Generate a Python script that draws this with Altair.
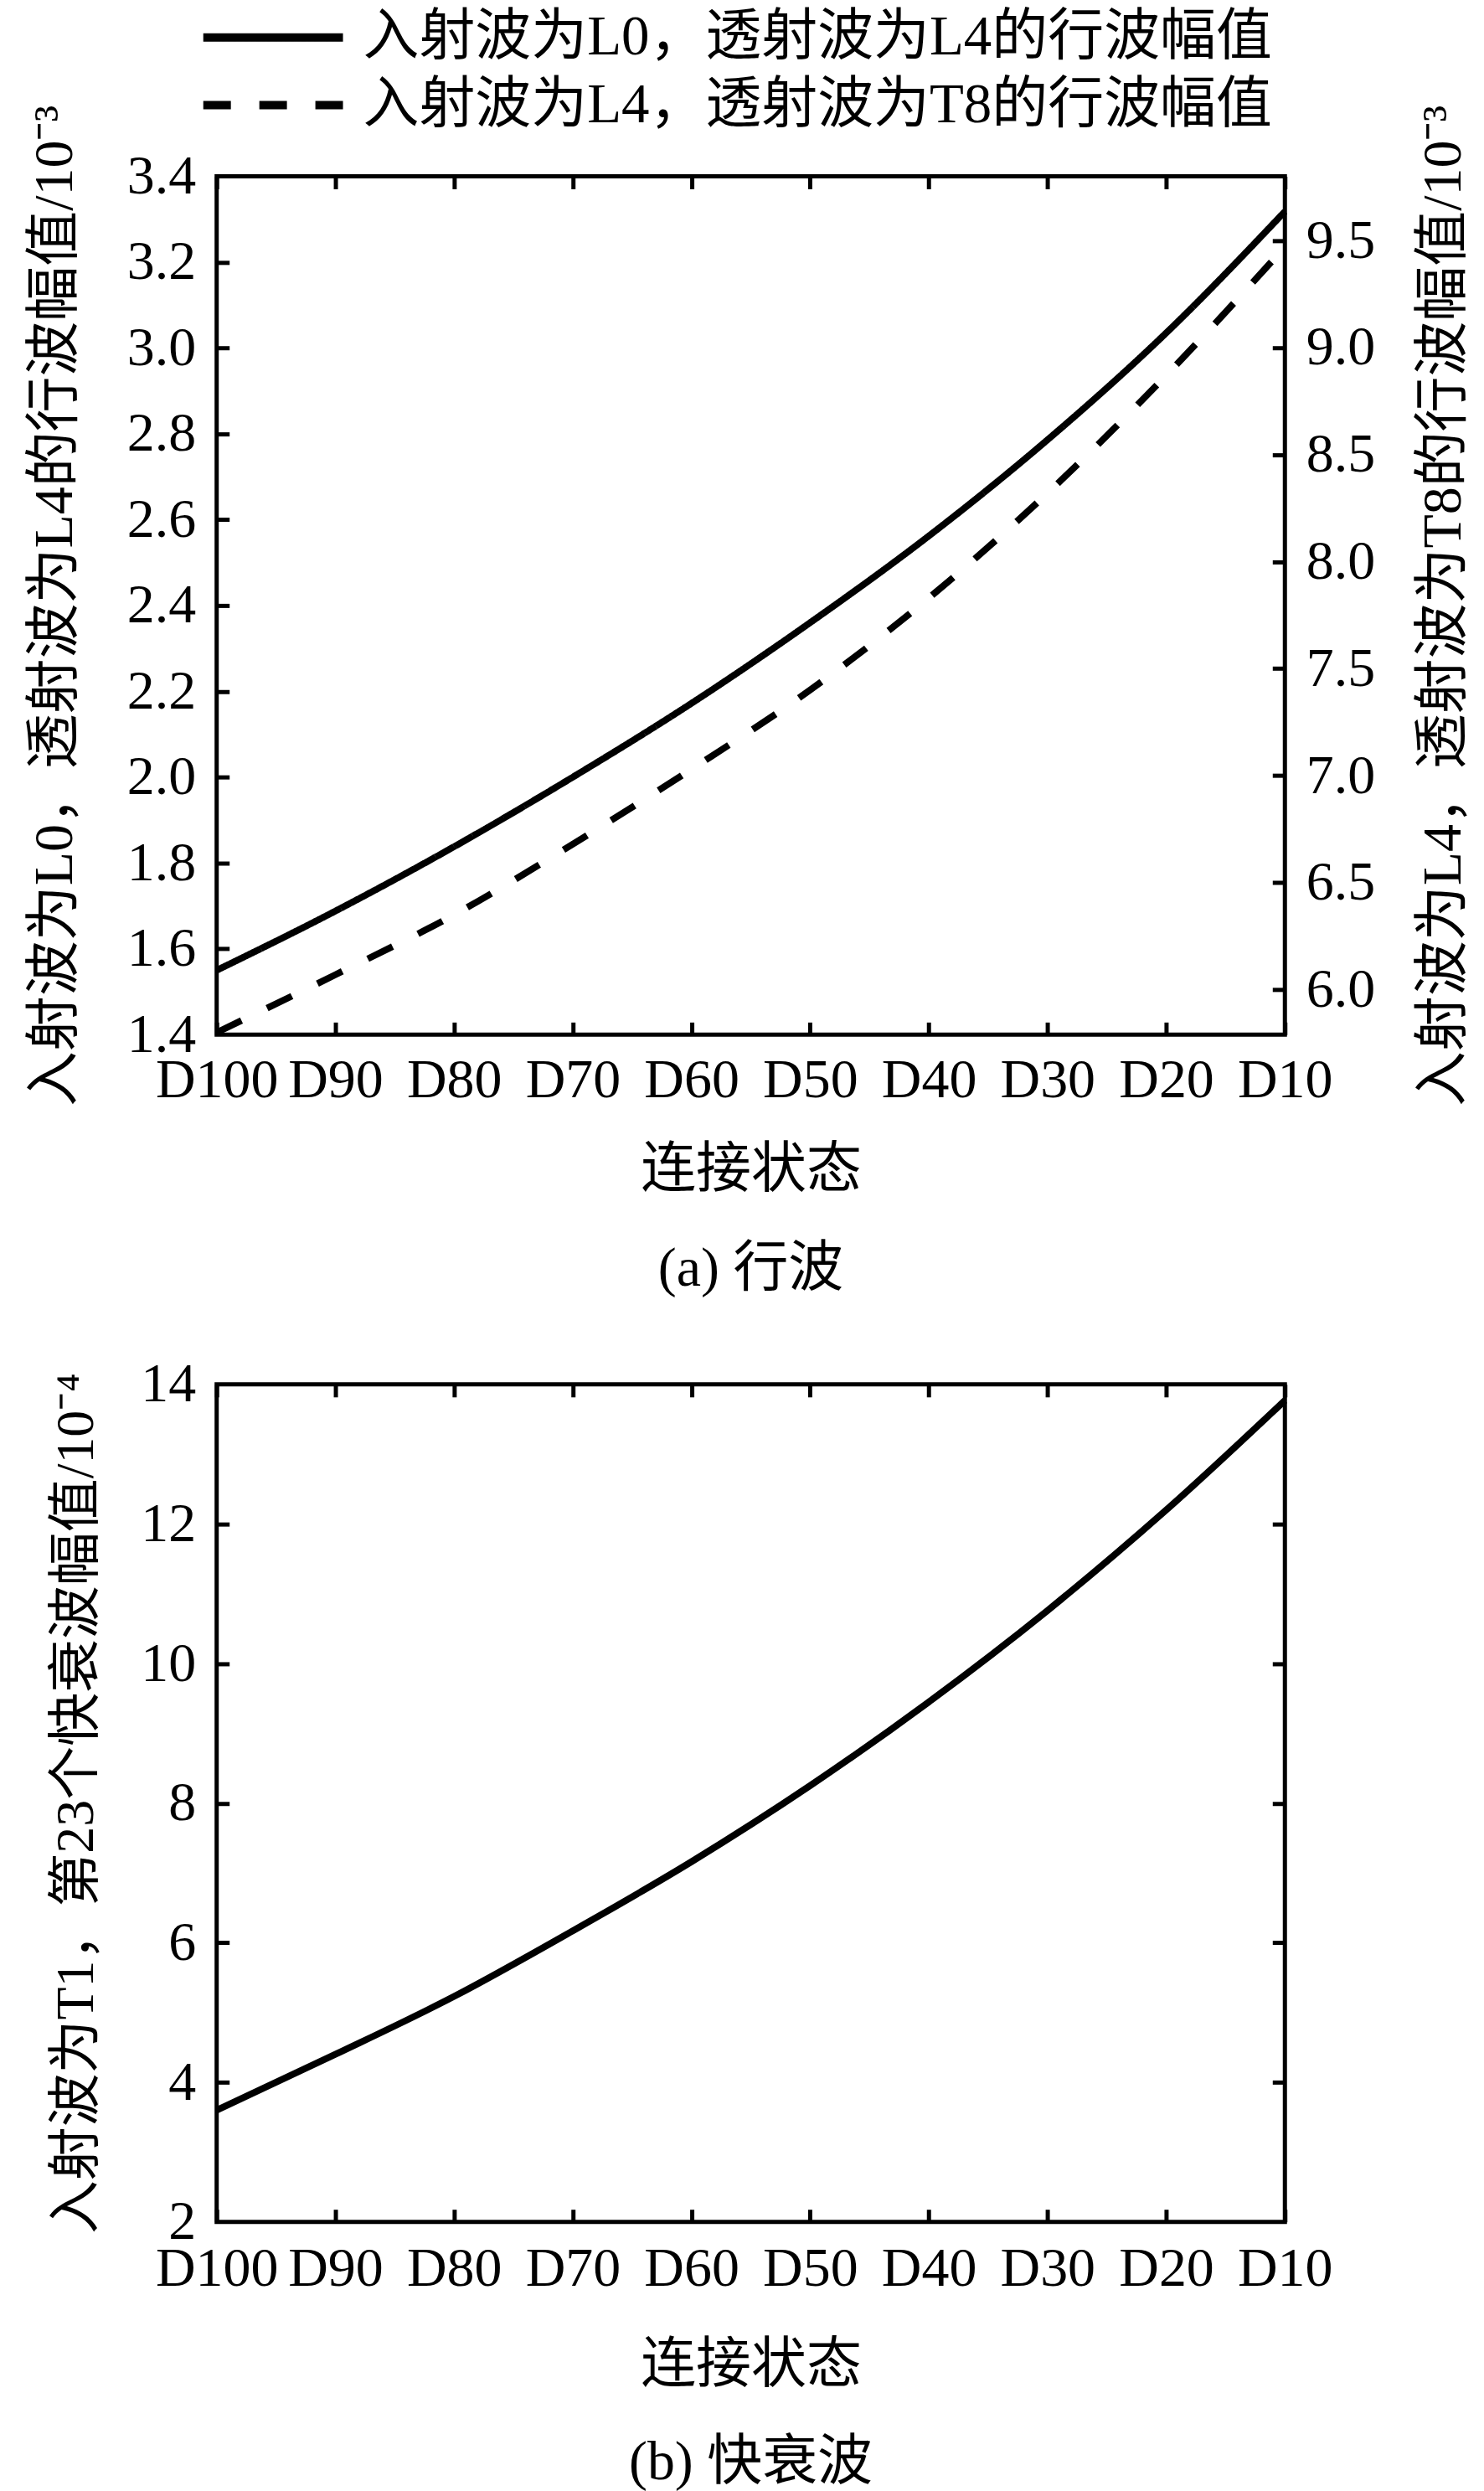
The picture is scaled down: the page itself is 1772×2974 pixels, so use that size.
import altair as alt
import pandas as pd

# ---------------- data ----------------
states = ["D100", "D90", "D80", "D70", "D60", "D50", "D40", "D30", "D20", "D10"]
l0_to_l4 = [1.550, 1.688, 1.838, 2.000, 2.172, 2.360, 2.562, 2.786, 3.035, 3.318]
l4_to_t8 = [5.80, 6.07, 6.35, 6.68, 7.03, 7.40, 7.83, 8.32, 8.87, 9.47]
t1_fast23 = [3.60, 4.40, 5.23, 6.17, 7.16, 8.25, 9.45, 10.76, 12.20, 13.77]

series_names = ["入射波为L0，透射波为L4的行波幅值", "入射波为L4，透射波为T8的行波幅值"]
left_ticks_a = [1.4, 1.6, 1.8, 2.0, 2.2, 2.4, 2.6, 2.8, 3.0, 3.2, 3.4]
right_ticks_a = [6.0, 6.5, 7.0, 7.5, 8.0, 8.5, 9.0, 9.5]
left_ticks_b = [2, 4, 6, 8, 10, 12, 14]

left_title_a = "入射波为L0，透射波为L4的行波幅值/10⁻³"
right_title_a = "入射波为L4，透射波为T8的行波幅值/10⁻³"
left_title_b = "入射波为T1，第23个快衰波幅值/10⁻⁴"
x_title = "连接状态"
caption_a = "(a) 行波"
caption_b = "(b) 快衰波"

# ---------------- style ----------------
FONT = "Liberation Serif, Noto Sans CJK SC"
W, H1, H2 = 1277, 1026, 1001
TICK = 15

df_a1 = pd.DataFrame({"state": states, "value": l0_to_l4, "series": series_names[0]})
df_a2 = pd.DataFrame({"state": states, "value": l4_to_t8, "series": series_names[1]})
df_b = pd.DataFrame({"state": states, "value": t1_fast23})

xscale = alt.Scale(type="point", padding=0)
yscale_l = alt.Scale(domain=[1.4, 3.4], nice=False, zero=False)
yscale_r = alt.Scale(domain=[5.79, 9.80], nice=False, zero=False)
yscale_b = alt.Scale(domain=[2, 14], nice=False, zero=False)


def tick_axis(orient, values=None):
    kw = dict(orient=orient, offset=-TICK, tickSize=TICK, tickWidth=5, tickColor="black",
              ticks=True, labels=False, domain=False, title=None, grid=False)
    if values is not None:
        kw["values"] = values
    return alt.Axis(**kw)


def x_enc(axis):
    return alt.X("state:N", sort=states, scale=xscale, axis=axis)


def x_main_axis(label_pad, title_pad):
    return alt.Axis(orient="bottom", title=x_title, labelAngle=0, ticks=False, domain=False,
                    labelOverlap=False, labelPadding=label_pad, titlePadding=title_pad)


dash_scale = alt.Scale(domain=series_names, range=[[1, 0], [33, 34]])
legend = alt.Legend(title=None, orient="none", legendX=-21, legendY=-198, direction="vertical",
                    symbolType="stroke", symbolSize=167 ** 2, symbolStrokeWidth=10,
                    symbolStrokeColor="black", labelFont=FONT, labelFontSize=67,
                    labelColor="black", labelLimit=0, labelOffset=19, clipHeight=64,
                    rowPadding=14, padding=0)

line_style = dict(color="black", strokeWidth=8, interpolate="monotone")

# ---------------- (a) travelling waves ----------------
solid = alt.Chart(df_a1).mark_line(**line_style).encode(
    x=x_enc(x_main_axis(22, 42)),
    y=alt.Y("value:Q", scale=yscale_l,
            axis=alt.Axis(orient="left", values=left_ticks_a, format=".1f", ticks=False,
                          domain=False, labelPadding=25, title=left_title_a,
                          titlePadding=52, titleFontSize=66)),
    strokeDash=alt.StrokeDash("series:N", scale=dash_scale, legend=legend),
)
dashed = alt.Chart(df_a2).mark_line(**line_style).encode(
    x=x_enc(None),
    y=alt.Y("value:Q", scale=yscale_r,
            axis=alt.Axis(orient="right", values=right_ticks_a, format=".1f", ticks=False,
                          domain=False, labelPadding=25, title=right_title_a,
                          titleAngle=270, titleBaseline="top", titlePadding=50,
                          titleFontSize=66)),
    strokeDash=alt.StrokeDash("series:N", scale=dash_scale, legend=legend),
)
ticks_a_bl = alt.Chart(df_a1).mark_line(strokeOpacity=0).encode(
    x=x_enc(tick_axis("bottom")),
    y=alt.Y("value:Q", scale=yscale_l, axis=tick_axis("left", left_ticks_a[1:-1])),
)
ticks_a_t = alt.Chart(df_a1).mark_line(strokeOpacity=0).encode(
    x=x_enc(tick_axis("top")),
    y=alt.Y("value:Q", scale=yscale_l, axis=None),
)
ticks_a_r = alt.Chart(df_a2).mark_line(strokeOpacity=0).encode(
    x=x_enc(None),
    y=alt.Y("value:Q", scale=yscale_r, axis=tick_axis("right", right_ticks_a)),
)

top = (
    alt.layer(solid, dashed, ticks_a_bl, ticks_a_t, ticks_a_r)
    .resolve_scale(y="independent")
    .resolve_axis(x="independent", y="independent")
    .properties(width=W, height=H1,
                title=alt.Title(caption_a, orient="bottom", anchor="middle", frame="group",
                                offset=54))
)

# ---------------- (b) fast decaying wave ----------------
fast = alt.Chart(df_b).mark_line(**line_style).encode(
    x=x_enc(x_main_axis(24, 50)),
    y=alt.Y("value:Q", scale=yscale_b,
            axis=alt.Axis(orient="left", values=left_ticks_b, format="d", ticks=False,
                          domain=False, labelPadding=25, title=left_title_b,
                          titlePadding=44, titleFontSize=64)),
)
ticks_b_bl = alt.Chart(df_b).mark_line(strokeOpacity=0).encode(
    x=x_enc(tick_axis("bottom")),
    y=alt.Y("value:Q", scale=yscale_b, axis=tick_axis("left", left_ticks_b[1:-1])),
)
ticks_b_tr = alt.Chart(df_b).mark_line(strokeOpacity=0).encode(
    x=x_enc(tick_axis("top")),
    y=alt.Y("value:Q", scale=yscale_b, axis=tick_axis("right", left_ticks_b[1:-1])),
)

bottom = (
    alt.layer(fast, ticks_b_bl, ticks_b_tr)
    .resolve_axis(x="independent", y="independent")
    .properties(width=W, height=H2,
                title=alt.Title(caption_b, orient="bottom", anchor="middle", frame="group",
                                offset=52))
)

chart = (
    alt.vconcat(top, bottom, spacing=66)
    .resolve_scale(x="independent", y="independent")
    .properties(padding={"left": 21, "top": 3, "right": 5, "bottom": 5})
    .configure(font=FONT)
    .configure_view(stroke="black", strokeWidth=5)
    .configure_axis(labelFont=FONT, titleFont=FONT, labelFontSize=66, titleFontSize=66,
                    labelColor="black", titleColor="black", titleFontWeight="normal",
                    grid=False)
    .configure_title(font=FONT, fontSize=66, fontWeight="normal", color="black")
)

chart.save("out.html", embed_options={"renderer": "svg", "actions": False})
